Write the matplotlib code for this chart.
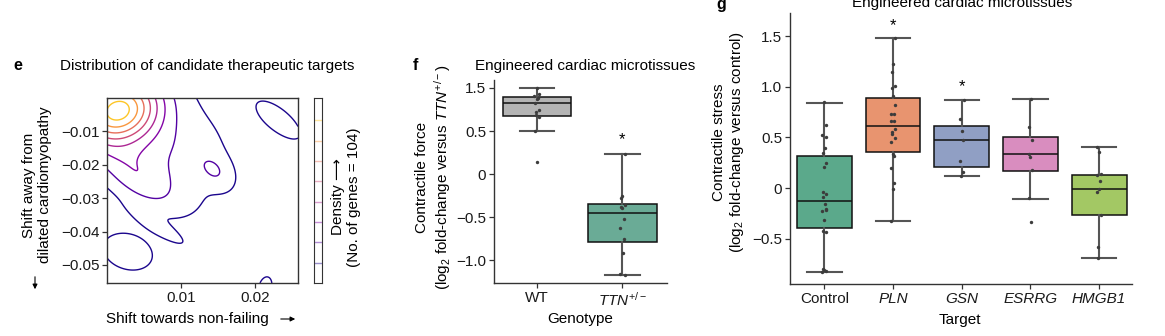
import numpy as np
import matplotlib.pyplot as plt
from matplotlib.patches import FancyArrowPatch

plt.rcParams['font.family'] = ['Liberation Sans', 'DejaVu Sans']
plt.rcParams['mathtext.fontset'] = 'custom'
plt.rcParams['mathtext.rm'] = 'Liberation Sans'
plt.rcParams['mathtext.it'] = 'Liberation Sans:italic'
plt.rcParams['font.size'] = 11

# --- panel e: density of candidate targets, described as gaussian bumps (units of 0.001)
bump_x = [1.33, 4.45, 4.79, 13.32, 6.70, 14.47, 2.34, 24.03, 21.36]
bump_y = [-3.37, -15.38, -25.09, -19.92, -38.14, -21.60, -46.33, -7.25, -56.89]
bump_sx = [3.88, 6.16, 3.69, 12.64, 2.35, 1.47, 4.48, 4.76, 0.66]
bump_sy = [6.93, 8.84, 6.41, 46.72, 3.54, 3.23, 7.63, 9.64, 2.32]
bump_rho = [0.158, -0.034, -0.563, -0.777, -0.9, -0.363, -0.249, -0.722, 0.268]
bump_w = [7.62, 1.40, 1.63, 0.81, 1.12, 1.10, 1.17, 0.94, 1.07]
levels_e = [1, 2, 3, 4, 5, 6, 7, 8]
n_genes = 104

# --- panel f
genotypes = ['WT', r'$\mathit{TTN}^{+/-}$']
wt_vals = [1.00, 0.93, 0.91, 0.88, 0.87, 0.82, 0.74, 0.72, 0.69, 0.66, 0.50, 0.14]
ttn_vals = [0.23, -0.26, -0.28, -0.36, -0.38, -0.40, -0.52, -0.63, -0.75, -0.92, -1.16, -1.17]
# whislo, q1, med, q3, whishi
f_stats = [[0.50, 0.68, 0.82, 0.89, 1.00],
           [-1.17, -0.795, -0.457, -0.345, 0.233]]
f_colors = ['#b4b4b4', '#6aab96']
f_stars = [None, 0.40]
f_yticks = [1.0, 0.5, 0.0, -0.5, -1.0]
f_yticklabels = ['1.5', '0.5', '0', '\u22120.5', '\u22121.0']

# --- panel g
targets = ['Control', 'PLN', 'GSN', 'ESRRG', 'HMGB1']
target_italic = [False, True, True, True, True]
control = [0.85, 0.62, 0.52, 0.50, 0.40, 0.35, 0.25, 0.21, -0.04, -0.06, -0.09, -0.16,
           -0.21, -0.23, -0.22, -0.31, -0.42, -0.43, -0.80, -0.81, -0.82, -0.83]
pln = [1.48, 1.22, 1.15, 1.01, 0.99, 0.91, 0.82, 0.73, 0.73, 0.66, 0.66, 0.58, 0.55,
       0.53, 0.49, 0.46, 0.34, 0.32, 0.20, 0.05, -0.01, -0.32]
gsn = [0.87, 0.68, 0.56, 0.47, 0.27, 0.16, 0.12]
esrrg = [0.88, 0.60, 0.47, 0.34, 0.31, 0.18, -0.10, -0.33]
hmgb1 = [0.41, 0.36, 0.14, 0.13, 0.07, -0.01, -0.04, -0.26, -0.58, -0.69]
g_stats = [[-0.83, -0.397, -0.128, 0.322, 0.844],
           [-0.32, 0.361, 0.614, 0.887, 1.481],
           [0.122, 0.21, 0.47, 0.617, 0.867],
           [-0.105, 0.174, 0.335, 0.509, 0.883],
           [-0.693, -0.266, -0.013, 0.125, 0.41]]
g_colors = ['#5ba98b', '#e8946f', '#909fc4', '#d98dbf', '#a3c864']
g_stars = [None, 1.60, 1.00, None, None]

W, H = 1165, 336
fig = plt.figure(figsize=(W / 100, H / 100), dpi=100)


def fax(l, r, t, b):
    return fig.add_axes([l / W, 1 - b / H, (r - l) / W, (b - t) / H])


def ftext(x, y, s, **kw):
    kw.setdefault('ha', 'center')
    kw.setdefault('va', 'center')
    return fig.text(x / W, 1 - y / H, s, **kw)


def farrow(x0, y0, x1, y1):
    fig.add_artist(FancyArrowPatch((x0 / W, 1 - y0 / H), (x1 / W, 1 - y1 / H),
                                   transform=fig.transFigure, arrowstyle='-|>',
                                   mutation_scale=7, lw=0.8, color='black'))


def style_axes(ax, full=False):
    for s in ax.spines.values():
        s.set_color('#333333')
        s.set_linewidth(1.0)
    if not full:
        ax.spines['top'].set_visible(False)
        ax.spines['right'].set_visible(False)
    ax.tick_params(direction='out', length=3.5, width=0.9, color='#333333',
                   labelsize=11, labelcolor='#1a1a1a', pad=2)


def boxes(ax, stat_rows, data, colors, stars, capw):
    stats = [dict(whislo=s[0], q1=s[1], med=s[2], q3=s[3], whishi=s[4], fliers=[]) for s in stat_rows]
    pos = np.arange(1, len(stats) + 1)
    bp = ax.bxp(stats, positions=pos, widths=0.8, patch_artist=True, showfliers=False,
                capwidths=capw,
                boxprops=dict(edgecolor='#111111', linewidth=1.1),
                medianprops=dict(color='#111111', linewidth=1.1),
                whiskerprops=dict(color='#555555', linewidth=1.5),
                capprops=dict(color='#555555', linewidth=1.5))
    for patch, c in zip(bp['boxes'], colors):
        patch.set_facecolor(c)
    for i, vals in enumerate(data):
        jit = 0.03 * np.sin(2.3 * np.arange(len(vals)) + i)
        ax.scatter(pos[i] + jit, vals, s=6, color='#3c3c3c', zorder=4, lw=0)
        if stars[i] is not None:
            ax.text(pos[i], stars[i], '*', ha='center', va='center', fontsize=12)


# ---------------- panel e
ax_e = fax(107, 298, 98, 283)
X, Y = np.meshgrid(np.linspace(0, 25.8, 400), np.linspace(-55.4, 0, 400))
Z = np.zeros_like(X)
for bx, by, sx, sy, r, w in zip(bump_x, bump_y, bump_sx, bump_sy, bump_rho, bump_w):
    dx = (X - bx) / sx
    dy = (Y - by) / sy
    Z += w * np.exp(-(dx ** 2 - 2 * r * dx * dy + dy ** 2) / (2 * (1 - r ** 2)))
cmap = plt.get_cmap('plasma')
lev_cols = [cmap(v) for v in np.linspace(0.02, 0.88, len(levels_e))]
ax_e.contour(X * 0.001, Y * 0.001, Z, levels=levels_e, colors=lev_cols, linewidths=1.0)
ax_e.set_xlim(0, 0.0258)
ax_e.set_ylim(-0.0554, 0)
ax_e.set_xticks([0.01, 0.02])
ax_e.set_xticklabels(['0.01', '0.02'])
ax_e.set_yticks([-0.01, -0.02, -0.03, -0.04, -0.05])
ax_e.set_yticklabels(['\u22120.01', '\u22120.02', '\u22120.03', '\u22120.04', '\u22120.05'])
style_axes(ax_e, full=True)

ax_cb = fax(314, 322, 98, 283)
for lv, c in zip(levels_e, lev_cols):
    ax_cb.axhline(lv, color=c, lw=1.0, alpha=0.45)
ax_cb.set_ylim(0, 9.1)
ax_cb.set_xticks([])
ax_cb.set_yticks([])
for s in ax_cb.spines.values():
    s.set_color('#333333')

ftext(18, 66, 'e', fontweight='bold', fontsize=11.5)
ftext(60, 66, 'Distribution of candidate therapeutic targets', ha='left')
ftext(37, 185, 'Shift away from\ndilated cardiomyopathy', rotation=90, linespacing=1.15)
farrow(35, 274, 35, 292)
ftext(106, 319, 'Shift towards non-failing', ha='left')
farrow(278, 319, 298, 319)
ftext(346, 197, 'Density \u27f6\n(No. of genes = %d)' % n_genes, rotation=90, linespacing=1.15)

# ---------------- panel f
ax_f = fax(494, 667, 80, 283)
boxes(ax_f, f_stats, [wt_vals, ttn_vals], f_colors, f_stars, 0.4)
ax_f.set_xlim(0.5, 2.52)
ax_f.set_ylim(-1.267, 1.093)
ax_f.set_xticks([1, 2])
ax_f.set_xticklabels(genotypes)
ax_f.set_yticks(f_yticks)
ax_f.set_yticklabels(f_yticklabels)
style_axes(ax_f)

ftext(415, 66, 'f', fontweight='bold', fontsize=11.5)
ftext(585, 66, 'Engineered cardiac microtissues')
ftext(434, 177, 'Contractile force\n(log$_2$ fold-change versus $\\mathit{TTN}^{+/-}$)',
      rotation=90, linespacing=1.15)
ftext(580, 319, 'Genotype')

# ---------------- panel g
ax_g = fax(790, 1132, 12.7, 284)
boxes(ax_g, g_stats, [control, pln, gsn, esrrg, hmgb1], g_colors, g_stars, 0.5)
ax_g.set_xlim(0.5, 5.48)
ax_g.set_ylim(-0.945, 1.73)
ax_g.set_xticks(range(1, 6))
ax_g.set_xticklabels(targets)
for lab, it in zip(ax_g.get_xticklabels(), target_italic):
    if it:
        lab.set_fontstyle('italic')
ax_g.set_yticks([1.5, 1.0, 0.5, 0.0, -0.5])
ax_g.set_yticklabels(['1.5', '1.0', '0.5', '0', '\u22120.5'])
style_axes(ax_g)

ftext(721, 4, 'g', fontweight='bold', fontsize=11.5)
ftext(962, 3, 'Engineered cardiac microtissues')
ftext(729, 142, 'Contractile stress\n(log$_2$ fold-change versus control)',
      rotation=90, linespacing=1.15)
ftext(960, 320, 'Target')

fig.savefig('out.png', dpi=100)
